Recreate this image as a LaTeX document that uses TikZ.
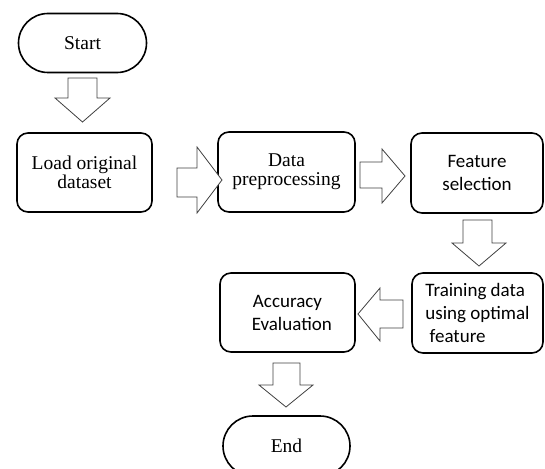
\documentclass[tikz,border=0pt]{standalone}
\usepackage{fontspec}
\setmainfont{Liberation Serif}
\newfontfamily\calib{Carlito}
\begin{document}
\begin{tikzpicture}[x=1pt,y=-1pt,
  box/.style={draw=black, line width=1.6pt, rounded corners=11pt, align=center, inner sep=0pt},
  term/.style={draw=black, line width=1.6pt, rounded corners=29.5pt, inner sep=0pt, minimum width=128pt, minimum height=59pt},
  blk/.style={draw=black!75, line width=0.8pt, line join=miter, fill=white},
  sertxt/.style={font=\fontsize{19.5}{19}\selectfont},
  sanstxt/.style={font=\calib\fontsize{19}{23}\selectfont}]
\clip (0,0) rectangle (545,468);
\useasboundingbox (0,0) rectangle (545,468);
% nodes
\node[term, sertxt] (start) at (82.5,43) {Start};
\node[box, sertxt, minimum width=135pt, minimum height=79pt] (load) at (84.5,172.5) {Load original\\dataset};
\node[box, sertxt, minimum width=137pt, minimum height=80pt] (prep) at (286.5,172) {Data\\preprocessing};
\node[box, sanstxt, minimum width=132pt, minimum height=80pt] (feat) at (477,173) {Feature\\selection};
\node[box, sanstxt, minimum width=131pt, minimum height=80pt, align=left] (train) at (477.5,313) {Training data\\using optimal\\\ feature};
\node[box, sanstxt, minimum width=135pt, minimum height=79pt] (acc) at (287.5,312.5) {Accuracy\\\ \ Evaluation};
\node[term, sertxt, minimum width=127pt, minimum height=60pt, rounded corners=30pt] (end) at (286.5,446) {End};
% block arrows
% start -> load (down)
\draw[blk] (68,78) -- (97,78) -- (97,98) -- (110,98) -- (82.5,122) -- (55,98) -- (68,98) -- cycle;
% load -> prep (right)
\draw[blk] (177,168) -- (197,168) -- (197,147) -- (222,180) -- (197,213) -- (197,197) -- (177,197) -- cycle;
% prep -> feat (right)
\draw[blk] (360,162) -- (382,162) -- (382,149) -- (405,176) -- (382,203) -- (382,188) -- (360,188) -- cycle;
% feat -> train (down)
\draw[blk] (463,220) -- (492,220) -- (492,243) -- (506,243) -- (479,266) -- (452,243) -- (463,243) -- cycle;
% train -> acc (left)
\draw[blk] (403,300) -- (380,300) -- (380,288) -- (358,314) -- (380,341) -- (380,328) -- (403,328) -- cycle;
% acc -> end (down)
\draw[blk] (273,363) -- (300,363) -- (300,385) -- (313,385) -- (286,407) -- (259,385) -- (273,385) -- cycle;
\end{tikzpicture}
\end{document}
